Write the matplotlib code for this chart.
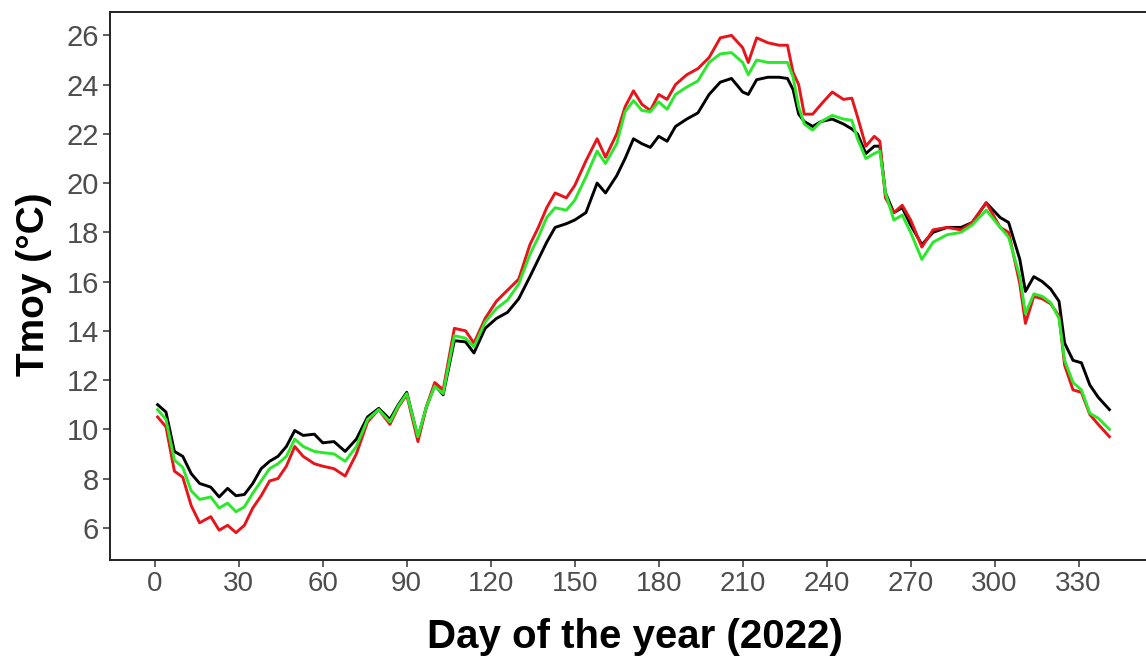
import numpy as np
import matplotlib
matplotlib.use("Agg")
import matplotlib.pyplot as plt

# daily mean temperature, sampled along the year
days = [1, 4, 7, 10, 13, 16, 20, 23, 26, 29, 32, 35, 38, 41, 44, 47, 50, 53, 57, 60,
        64, 68, 72, 76, 80, 84, 87, 90, 94, 97, 100, 103, 107, 111, 114, 118, 122, 126,
        130, 134, 137, 140, 143, 147, 150, 154, 158, 161, 165, 168, 171, 174, 177, 180,
        183, 186, 190, 194, 198, 202, 206, 210, 212, 215, 219, 223, 226, 228, 230, 232,
        235, 238, 242, 246, 249, 251, 254, 257, 259, 261, 264, 267, 270, 274, 278, 283,
        288, 292, 297, 302, 305, 309, 311, 314, 317, 320, 323, 325, 328, 331, 334, 337, 341]

tmoy_black = [11.0, 10.7, 9.1, 8.9, 8.2, 7.8, 7.65, 7.25, 7.6, 7.3, 7.35, 7.8, 8.4, 8.7,
              8.9, 9.3, 9.95, 9.75, 9.8, 9.45, 9.5, 9.1, 9.6, 10.5, 10.85, 10.4, 11.0,
              11.5, 9.65, 10.9, 11.8, 11.4, 13.6, 13.55, 13.1, 14.1, 14.5, 14.75, 15.3,
              16.2, 16.9, 17.6, 18.2, 18.35, 18.5, 18.8, 20.0, 19.6, 20.3, 21.0, 21.8,
              21.6, 21.45, 21.9, 21.7, 22.3, 22.6, 22.85, 23.6, 24.1, 24.25, 23.7, 23.6,
              24.2, 24.3, 24.3, 24.25, 23.8, 22.8, 22.5, 22.3, 22.5, 22.6, 22.4, 22.2,
              22.0, 21.2, 21.5, 21.5, 19.6, 18.8, 19.0, 18.3, 17.5, 18.0, 18.2, 18.2,
              18.4, 19.2, 18.6, 18.4, 16.9, 15.6, 16.2, 16.0, 15.7, 15.2, 13.5, 12.8,
              12.7, 11.8, 11.3, 10.8]

tmoy_red = [10.5, 10.1, 8.3, 8.05, 6.9, 6.2, 6.45, 5.9, 6.1, 5.8, 6.1, 6.8, 7.3, 7.9,
            8.0, 8.5, 9.3, 8.9, 8.6, 8.5, 8.4, 8.1, 9.0, 10.3, 10.8, 10.2, 10.9, 11.4,
            9.5, 10.9, 11.9, 11.6, 14.1, 14.0, 13.5, 14.5, 15.2, 15.65, 16.1, 17.5,
            18.2, 19.0, 19.6, 19.4, 19.9, 20.9, 21.8, 21.05, 22.0, 23.1, 23.75, 23.2,
            22.95, 23.6, 23.4, 24.0, 24.4, 24.65, 25.1, 25.9, 26.0, 25.5, 24.9, 25.9,
            25.7, 25.6, 25.6, 24.5, 24.0, 22.8, 22.8, 23.2, 23.7, 23.4, 23.45, 22.7,
            21.5, 21.9, 21.7, 19.4, 18.8, 19.1, 18.5, 17.4, 18.1, 18.2, 18.1, 18.4,
            19.2, 18.2, 18.0, 15.9, 14.3, 15.4, 15.3, 15.1, 14.6, 12.6, 11.6, 11.5,
            10.6, 10.2, 9.7]

tmoy_green = [10.8, 10.4, 8.75, 8.45, 7.5, 7.15, 7.25, 6.8, 7.0, 6.65, 6.85, 7.4, 7.9,
              8.4, 8.6, 8.9, 9.6, 9.3, 9.1, 9.05, 9.0, 8.7, 9.3, 10.4, 10.8, 10.3, 10.95,
              11.45, 9.7, 10.9, 11.75, 11.45, 13.8, 13.7, 13.35, 14.35, 14.9, 15.25, 15.9,
              17.1, 17.8, 18.6, 19.0, 18.9, 19.3, 20.25, 21.3, 20.8, 21.6, 22.9, 23.35,
              22.95, 22.9, 23.3, 23.0, 23.6, 23.9, 24.15, 24.9, 25.25, 25.3, 24.9, 24.4,
              25.0, 24.9, 24.9, 24.9, 24.3, 23.1, 22.4, 22.15, 22.5, 22.75, 22.6, 22.55,
              21.8, 21.0, 21.2, 21.3, 19.6, 18.5, 18.7, 18.0, 16.9, 17.6, 17.9, 18.0,
              18.3, 18.9, 18.2, 17.8, 16.2, 14.7, 15.5, 15.4, 15.15, 14.5, 12.8, 11.9,
              11.6, 10.65, 10.45, 10.0]

xticks = np.arange(0, 331, 30)
yticks = np.arange(6, 27, 2)

plt.rcParams["font.family"] = ["Liberation Sans", "DejaVu Sans"]

fig = plt.figure(figsize=(11.46, 6.58), dpi=100)
# panel runs slightly past the right edge of the figure
ax = fig.add_axes([110 / 1146, 1 - 560 / 658, 1047 / 1146, 548 / 658])

ax.plot(days, tmoy_black, color="black", lw=2.1)
ax.plot(days, tmoy_red, color="#e8141c", lw=2.1)
ax.plot(days, tmoy_green, color="#2be82b", lw=2.1)

ax.set_xlim(-16, 358)
ax.set_ylim(4.69, 26.95)
ax.set_xticks(xticks)
ax.set_yticks(yticks)
ax.tick_params(axis="both", labelsize=20, labelcolor="#4d4d4d", color="#333333",
               length=5, width=1.1, direction="out", pad=3)
ax.tick_params(axis="y", labelsize=21)

for side in ["left", "right", "top", "bottom"]:
    ax.spines[side].set_color("#222222")
    ax.spines[side].set_linewidth(1.4)

ax.set_xlabel("Day of the year (2022)", fontsize=29, fontweight="bold")
ax.set_ylabel("Tmoy (°C)", fontsize=28, fontweight="bold")
ax.xaxis.set_label_coords((635 - 110) / 1047, -0.105)
ax.yaxis.set_label_coords((52 - 110) / 1047, 0.504)

fig.savefig("out.png", dpi=100)
